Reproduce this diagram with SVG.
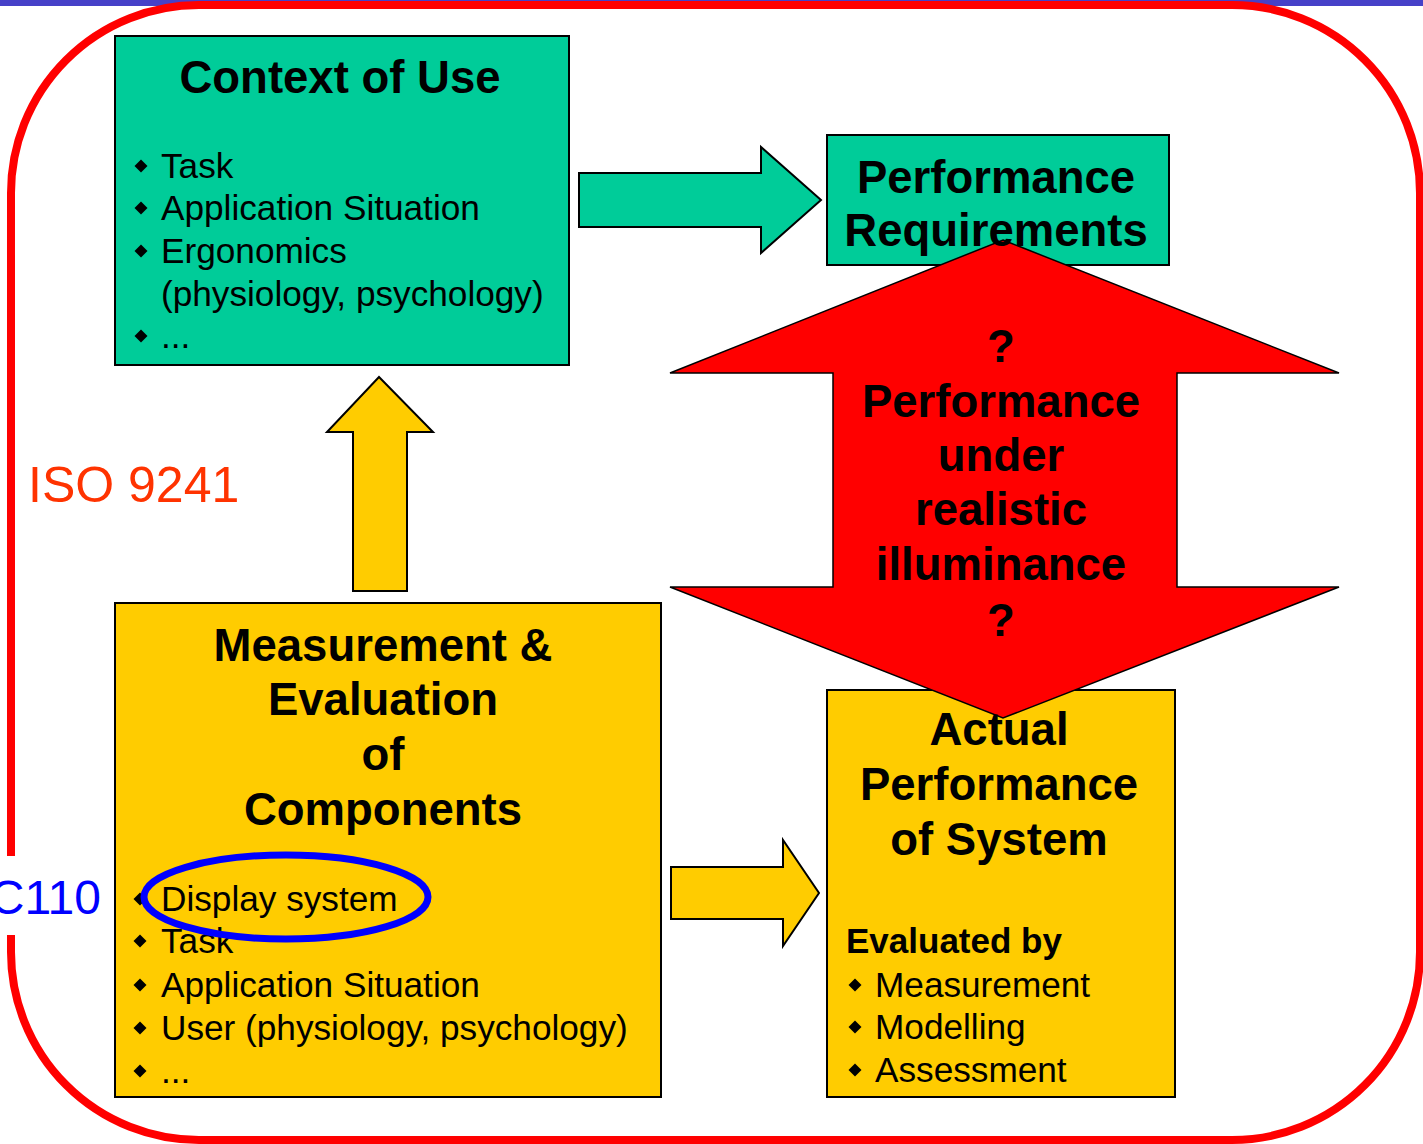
<svg xmlns="http://www.w3.org/2000/svg" xmlns:xlink="http://www.w3.org/1999/xlink" width="1423" height="1144" viewBox="0 0 1423 1144">
  <style>
    text { font-family: "Liberation Sans", Arial, sans-serif; fill: #000; }
    .title { font-size: 45.5px; font-weight: bold; text-anchor: middle; }
    .item { font-size: 35.2px; }
    .sub { font-size: 35px; font-weight: bold; }
    .box { stroke: #000; stroke-width: 2; }
    .green { fill: #00CC99; }
    .yellow { fill: #FFCC00; }
    .arrow { stroke: #000; stroke-width: 2; stroke-linejoin: miter; }
  </style>
  <defs>
    <path id="bullet" d="M0,-6.5 L6.5,0 L0,6.5 L-6.5,0 Z" fill="#000"/>
  </defs>

  <!-- page frame -->
  <rect x="0" y="0" width="1423" height="6" fill="#4641C8"/>
  <rect x="11" y="5" width="1409" height="1135" rx="188" ry="188" fill="none" stroke="#FF0000" stroke-width="8"/>

  <!-- side labels -->
  <g id="label-c110">
    <rect x="0" y="856" width="122" height="79" fill="#FFFFFF"/>
    <text x="101" y="914" font-size="48" text-anchor="end" style="fill:#0000FF">C110</text>
  </g>
  <g id="label-iso">
    <text x="28" y="502" font-size="50" style="fill:#FF3300">ISO 9241</text>
  </g>

  <!-- Context of Use -->
  <g id="context-of-use">
    <rect class="box green" x="115" y="36" width="454" height="329"/>
    <text class="title" x="340" y="93">Context of Use</text>
    <use href="#bullet" x="141" y="166"/>
    <text class="item" x="161" y="178">Task</text>
    <use href="#bullet" x="141" y="208"/>
    <text class="item" x="161" y="220">Application Situation</text>
    <use href="#bullet" x="141" y="251"/>
    <text class="item" x="161" y="263">Ergonomics</text>
    <text class="item" x="161" y="306">(physiology, psychology)</text>
    <use href="#bullet" x="141" y="336"/>
    <text class="item" x="161" y="348">...</text>
  </g>

  <!-- Measurement & Evaluation of Components -->
  <g id="measurement-evaluation">
    <rect class="box yellow" x="115" y="603" width="546" height="494"/>
    <text class="title" x="383" y="661">Measurement &amp;</text>
    <text class="title" x="383" y="715">Evaluation</text>
    <text class="title" x="383" y="770">of</text>
    <text class="title" x="383" y="825">Components</text>
    <use href="#bullet" x="140" y="899"/>
    <text class="item" x="161" y="911">Display system</text>
    <use href="#bullet" x="140" y="941"/>
    <text class="item" x="161" y="953">Task</text>
    <use href="#bullet" x="140" y="985"/>
    <text class="item" x="161" y="997">Application Situation</text>
    <use href="#bullet" x="140" y="1028"/>
    <text class="item" x="161" y="1040">User (physiology, psychology)</text>
    <use href="#bullet" x="140" y="1071"/>
    <text class="item" x="161" y="1083">...</text>
    <ellipse cx="286" cy="897" rx="142" ry="42" fill="none" stroke="#0000FF" stroke-width="7"/>
  </g>

  <!-- block arrows between nodes -->
  <g id="connectors">
    <polygon class="arrow green" points="579,173 761,173 761,147 821,200 761,253 761,227 579,227"/>
    <polygon class="arrow yellow" points="353,591 353,432 327,432 379,377 433,432 407,432 407,591"/>
    <polygon class="arrow yellow" points="671,867 783,867 783,840 819,893 783,946 783,919 671,919"/>
  </g>

  <!-- node frames under the double arrow -->
  <g id="performance-requirements">
    <rect class="box green" x="827" y="135" width="342" height="130"/>
  </g>
  <g id="actual-performance">
    <rect class="box yellow" x="827" y="690" width="348" height="407"/>
  </g>

  <!-- double arrow: performance under realistic illuminance -->
  <g id="realistic-illuminance">
    <polygon points="1003,240 1339,373 1177,373 1177,587 1339,587 1003,718 670,587 833,587 833,373 670,373" fill="#FF0000" stroke="#000" stroke-width="1.5"/>
    <text class="title" x="1001" y="362">?</text>
    <text class="title" x="1001" y="417">Performance</text>
    <text class="title" x="1001" y="471">under</text>
    <text class="title" x="1001" y="525">realistic</text>
    <text class="title" x="1001" y="580">illuminance</text>
    <text class="title" x="1001" y="636">?</text>
  </g>

  <!-- node labels drawn above the double arrow -->
  <g id="performance-requirements-label">
    <text class="title" x="996" y="193">Performance</text>
    <text class="title" x="996" y="246">Requirements</text>
  </g>
  <g id="actual-performance-label">
    <text class="title" x="999" y="745">Actual</text>
    <text class="title" x="999" y="800">Performance</text>
    <text class="title" x="999" y="855">of System</text>
    <text class="sub" x="846" y="953">Evaluated by</text>
    <use href="#bullet" x="855" y="985"/>
    <text class="item" x="875" y="997">Measurement</text>
    <use href="#bullet" x="855" y="1027"/>
    <text class="item" x="875" y="1039">Modelling</text>
    <use href="#bullet" x="855" y="1070"/>
    <text class="item" x="875" y="1082">Assessment</text>
  </g>
</svg>
